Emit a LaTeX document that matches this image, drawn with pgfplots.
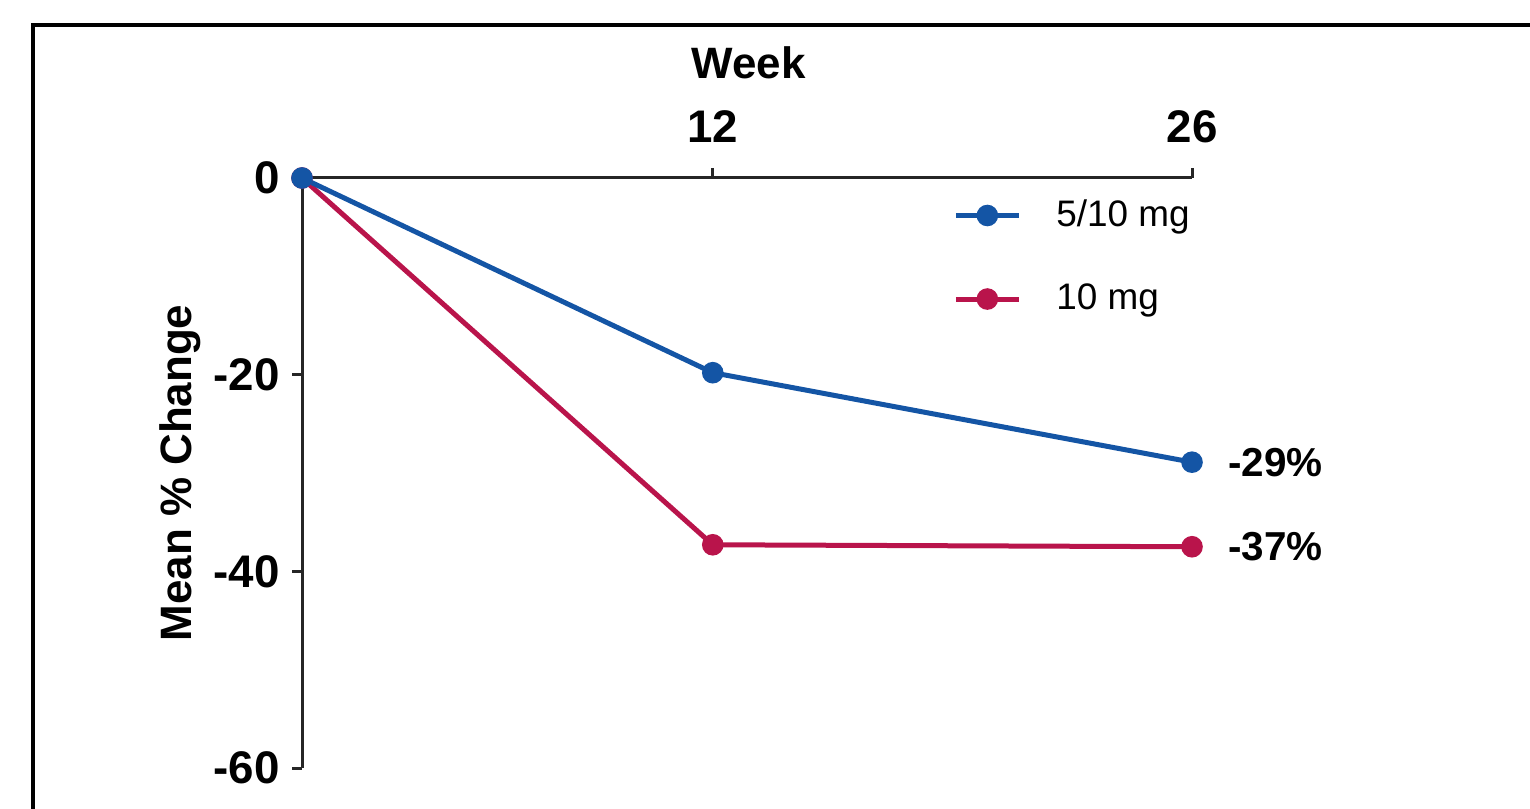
\documentclass[border=0pt]{standalone}
\usepackage{fontspec}
\setmainfont{Liberation Sans}
\usepackage{pgfplots}
\pgfplotsset{compat=1.18}
\definecolor{cblue}{RGB}{20,85,165}
\definecolor{cred}{RGB}{185,20,75}
\begin{document}
\begin{tikzpicture}
\useasboundingbox (0,0) rectangle (15.30,8.08);
\draw[line width=0.35mm] (0.33,-0.2) -- (0.33,7.83) -- (15.5,7.83);
\begin{axis}[
  at={(3.02cm,0.40cm)}, anchor=south west,
  scale only axis, width=8.90cm, height=5.90cm,
  xmin=0, xmax=26, ymin=-60, ymax=0,
  axis x line*=top, axis y line*=left,
  axis line style={line width=0.3mm, black!85},
  xtick={12,26}, ytick={0,-20,-40,-60},
  tick style={line width=0.3mm, black!85},
  tick align=outside, major tick length=1mm,
  ticklabel style={font=\bfseries\fontsize{13}{15}\selectfont},
  xticklabel style={yshift=1.3mm},
  /pgf/number format/assume math mode=true,
  xlabel={Week}, ylabel={Mean \% Change},
  label style={font=\bfseries\fontsize{12.5}{14}\selectfont},
  xlabel style={at={(axis description cs:0.502,1.195)}, anchor=center},
  ylabel style={at={(axis description cs:-0.137,0.5)}, anchor=center},
  clip=false,
  reverse legend,
  legend style={draw=none, fill=none, at={(axis cs:18.70,-1.4)}, anchor=north west,
    font=\fontsize{10.5}{12}\selectfont, row sep=5.2mm, column sep=3.5mm,
    nodes={inner sep=0pt}},
  legend cell align=left,
  legend image code/.code={\draw[mark repeat=2,mark phase=2,#1] plot coordinates {(0mm,0mm) (3.15mm,0mm) (6.3mm,0mm)};},
]
\addplot[cred, line width=0.5mm, mark=*, mark size=2.35pt] coordinates {(0,0) (12,-37.3) (26,-37.5)};
\addlegendentry{10 mg}
\addplot[cblue, line width=0.5mm, mark=*, mark size=2.35pt] coordinates {(0,0) (12,-19.8) (26,-28.9)};
\addlegendentry{5/10 mg}
\node[anchor=west, font=\bfseries\fontsize{11.5}{13}\selectfont, xshift=2.4mm] at (axis cs:26,-28.9) {-29\%};
\node[anchor=west, font=\bfseries\fontsize{11.5}{13}\selectfont, xshift=2.4mm] at (axis cs:26,-37.5) {-37\%};
\end{axis}
\end{tikzpicture}
\end{document}
